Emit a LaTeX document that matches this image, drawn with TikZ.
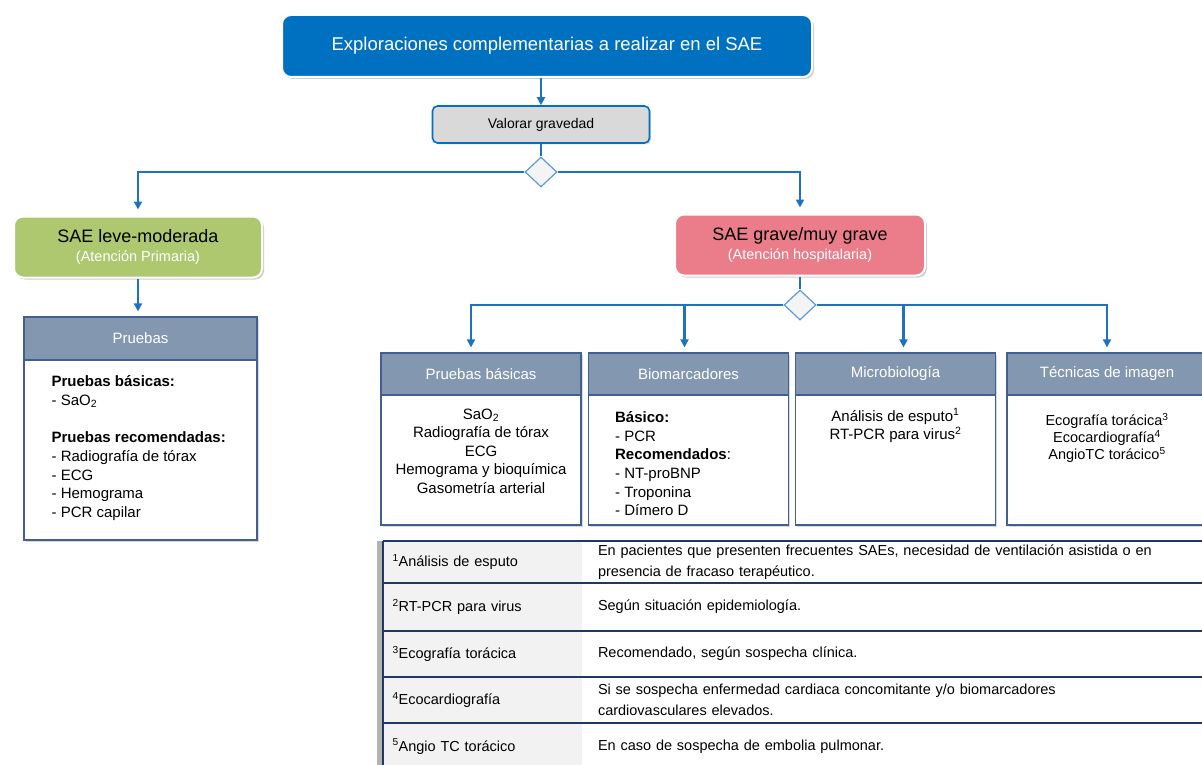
\documentclass[tikz,border=0pt]{standalone}
\usepackage{fontspec}
\setmainfont{Liberation Sans}
\usetikzlibrary{shapes.geometric, arrows.meta, positioning, shadows}

\definecolor{titleblue}{HTML}{0070C0}
\definecolor{linkblue}{HTML}{1F72C0}
\definecolor{valgray}{HTML}{D9D9D9}
\definecolor{leafgreen}{HTML}{AEC870}
\definecolor{rosered}{HTML}{EB7D8B}
\definecolor{headslate}{HTML}{8497B0}
\definecolor{boxedge}{HTML}{41608F}
\definecolor{keygray}{HTML}{F2F2F2}
\definecolor{rownavy}{HTML}{1F3864}
\definecolor{diamondedge}{HTML}{5B9BD5}
\definecolor{diamondfill}{HTML}{F4F4F4}

\newcommand{\carenote}[1]{\textcolor{white}{\fontsize{14.5}{16}\selectfont #1}}

\begin{document}
\begin{tikzpicture}[
        x=1pt, y=-1pt,
        titlebox/.style={rectangle, rounded corners=9pt, draw=white, line width=2pt, fill=titleblue, text=white, minimum width=530pt, minimum height=62pt, font=\fontsize{18.5}{22}\selectfont, drop shadow={opacity=0.4, shadow xshift=2pt, shadow yshift=-2pt}},
        gravitybox/.style={rectangle, rounded corners=5pt, draw=titleblue, line width=1.6pt, fill=valgray, minimum width=217pt, minimum height=37pt, font=\fontsize{14}{16}\selectfont, drop shadow={opacity=0.3, shadow xshift=1.5pt, shadow yshift=-1.5pt}},
        levelbox/.style={rectangle, rounded corners=9pt, draw=white, line width=2pt, minimum height=61pt, align=center, font=\fontsize{18}{20}\selectfont, drop shadow={opacity=0.4, shadow xshift=2pt, shadow yshift=-2pt}},
        choice/.style={diamond, draw=diamondedge, line width=1.2pt, fill=diamondfill, minimum width=32pt, minimum height=30pt, inner sep=0pt},
        headbox/.style={rectangle, draw=boxedge, line width=1.2pt, fill=headslate, text=white, minimum width=200pt, minimum height=42pt, font=\fontsize{15}{17}\selectfont, drop shadow={opacity=0.3, shadow xshift=1.5pt, shadow yshift=-1.5pt}},
        bodybox/.style={rectangle, draw=boxedge, line width=1.2pt, fill=white, minimum width=200pt, minimum height=130pt, drop shadow={opacity=0.3, shadow xshift=1.5pt, shadow yshift=-1.5pt}},
        bodytext/.style={inner sep=0pt, align=center, font=\fontsize{15}{18.6}\selectfont},
        tabkey/.style={rectangle, fill=keygray, text width=180pt, inner xsep=9.5pt, inner ysep=0pt, align=left, font=\fontsize{14.5}{21}\selectfont},
        tabval/.style={rectangle, fill=white, text width=596pt, inner xsep=16pt, inner ysep=0pt, align=left, font=\fontsize{14.5}{21}\selectfont},
        arrow/.style={-{Triangle[length=8pt, width=8pt]}, line width=2.2pt, draw=linkblue},
        link/.style={line width=2.2pt, draw=linkblue},
        rowline/.style={line width=1.8pt, draw=rownavy}
    ]
        \useasboundingbox (0,0) rectangle (1202,765);

        \node[titlebox] (title) at (547,46) {Exploraciones complementarias a realizar en el SAE};
        \node[gravitybox] (valorar) at (541,124.5) {Valorar gravedad};
        \node[choice] (d1) at (541,172) {};
        \node[levelbox, fill=leafgreen, minimum width=248pt] (leve) at (138,247) {SAE leve-moderada\\[-1pt]\carenote{(Atención Primaria)}};
        \node[levelbox, fill=rosered, minimum width=250pt] (grave) at (800,245) {SAE grave/muy grave\\[-1pt]\carenote{(Atención hospitalaria)}};

        \node[headbox, minimum width=233pt, minimum height=43pt] (pruebasH) at (140.5,338.5) {Pruebas};
        \node[bodybox, minimum width=233pt, minimum height=180pt] (pruebasB) at (140.5,450) {};
        \node[bodytext, align=left, below right=16pt and 28pt of pruebasB.north west] (pruebasT) {\textbf{Pruebas básicas:}\\- SaO\textsubscript{2}\\[19pt]\textbf{Pruebas recomendadas:}\\- Radiografía de tórax\\- ECG\\- Hemograma\\- PCR capilar};

        \node[choice] (d2) at (800,305) {};

        \node[headbox] (basicasH) at (481,374) {Pruebas básicas};
        \node[bodybox] (basicasB) at (481,460) {};
        \node[bodytext, below=14pt of basicasB.north] (basicasT) {SaO\textsubscript{2}\\Radiografía de tórax\\ECG\\Hemograma y bioquímica\\Gasometría arterial};

        \node[headbox] (bioH) at (688.5,374) {Biomarcadores};
        \node[bodybox] (bioB) at (688.5,460) {};
        \node[bodytext, align=left, below right=17pt and 27pt of bioB.north west] (bioT) {\textbf{Básico:}\\- PCR\\\textbf{Recomendados}:\\- NT-proBNP\\- Troponina\\- Dímero D};

        \node[headbox] (microH) at (895.5,374) {Microbiología};
        \node[bodybox] (microB) at (895.5,460) {};
        \node[bodytext, below=14pt of microB.north] (microT) {Análisis de esputo\textsuperscript{1}\\RT-PCR para virus\textsuperscript{2}};

        \node[headbox] (imagenH) at (1107,374) {Técnicas de imagen};
        \node[bodybox] (imagenB) at (1107,460) {};
        \node[bodytext, font=\fontsize{14.5}{17}\selectfont, below=19pt of imagenB.north] (imagenT) {Ecografía torácica\textsuperscript{3}\\Ecocardiografía\textsuperscript{4}\\AngioTC torácico\textsuperscript{5}};

        \node[tabkey, minimum height=42pt] (k1) at (482.5,562) {\textsuperscript{1}Análisis de esputo};
        \node[tabval, minimum height=42pt] (v1) at (896,562) {En pacientes que presenten frecuentes SAEs, necesidad de ventilación asistida o en\\presencia de fracaso terapéutico.};
        \node[tabkey, minimum height=48pt] (k2) at (482.5,607) {\textsuperscript{2}RT-PCR para virus};
        \node[tabval, minimum height=48pt] (v2) at (896,607) {Según situación epidemiología.};
        \node[tabkey, minimum height=46pt] (k3) at (482.5,654) {\textsuperscript{3}Ecografía torácica};
        \node[tabval, minimum height=46pt] (v3) at (896,654) {Recomendado, según sospecha clínica.};
        \node[tabkey, minimum height=46pt] (k4) at (482.5,700) {\textsuperscript{4}Ecocardiografía};
        \node[tabval, minimum height=46pt] (v4) at (896,700) {Si se sospecha enfermedad cardiaca concomitante y/o biomarcadores\\cardiovasculares elevados.};
        \node[tabkey, minimum height=47pt] (k5) at (482.5,746.5) {\textsuperscript{5}Angio TC torácico};
        \node[tabval, minimum height=47pt] (v5) at (896,746.5) {En caso de sospecha de embolia pulmonar.};

        \draw[arrow] (title.south -| valorar) -- (valorar);
        \draw[link] (valorar) -- (d1);
        \draw[arrow, shorten >=6pt] (d1.west) -| (leve.north);
        \draw[arrow, shorten >=6pt] (d1.east) -| (grave.north);
        \draw[arrow, shorten >=5pt] (leve.south) -- (leve.south |- pruebasH.north);
        \draw[link] (grave) -- (d2);
        \draw[arrow, shorten >=5pt] (d2.west) -| ([xshift=-10pt]basicasH.north);
        \draw[arrow, shorten >=5pt] (d2.west) -| ([xshift=-4pt]bioH.north);
        \draw[arrow, shorten >=5pt] (d2.east) -| ([xshift=8pt]microH.north);
        \draw[arrow, shorten >=5pt] (d2.east) -| (imagenH.north);

        \fill[black!30] ([xshift=-6pt]k1.north west) rectangle (k5.south west);
        \draw[rowline] (k1.north west) -- (v1.north east);
        \draw[rowline] (k2.north west) -- (v2.north east);
        \draw[rowline] (k3.north west) -- (v3.north east);
        \draw[rowline] (k4.north west) -- (v4.north east);
        \draw[rowline] (k5.north west) -- (v5.north east);
        \draw[rowline] (k1.north west) -- (k5.south west);
    \end{tikzpicture}
\end{document}
